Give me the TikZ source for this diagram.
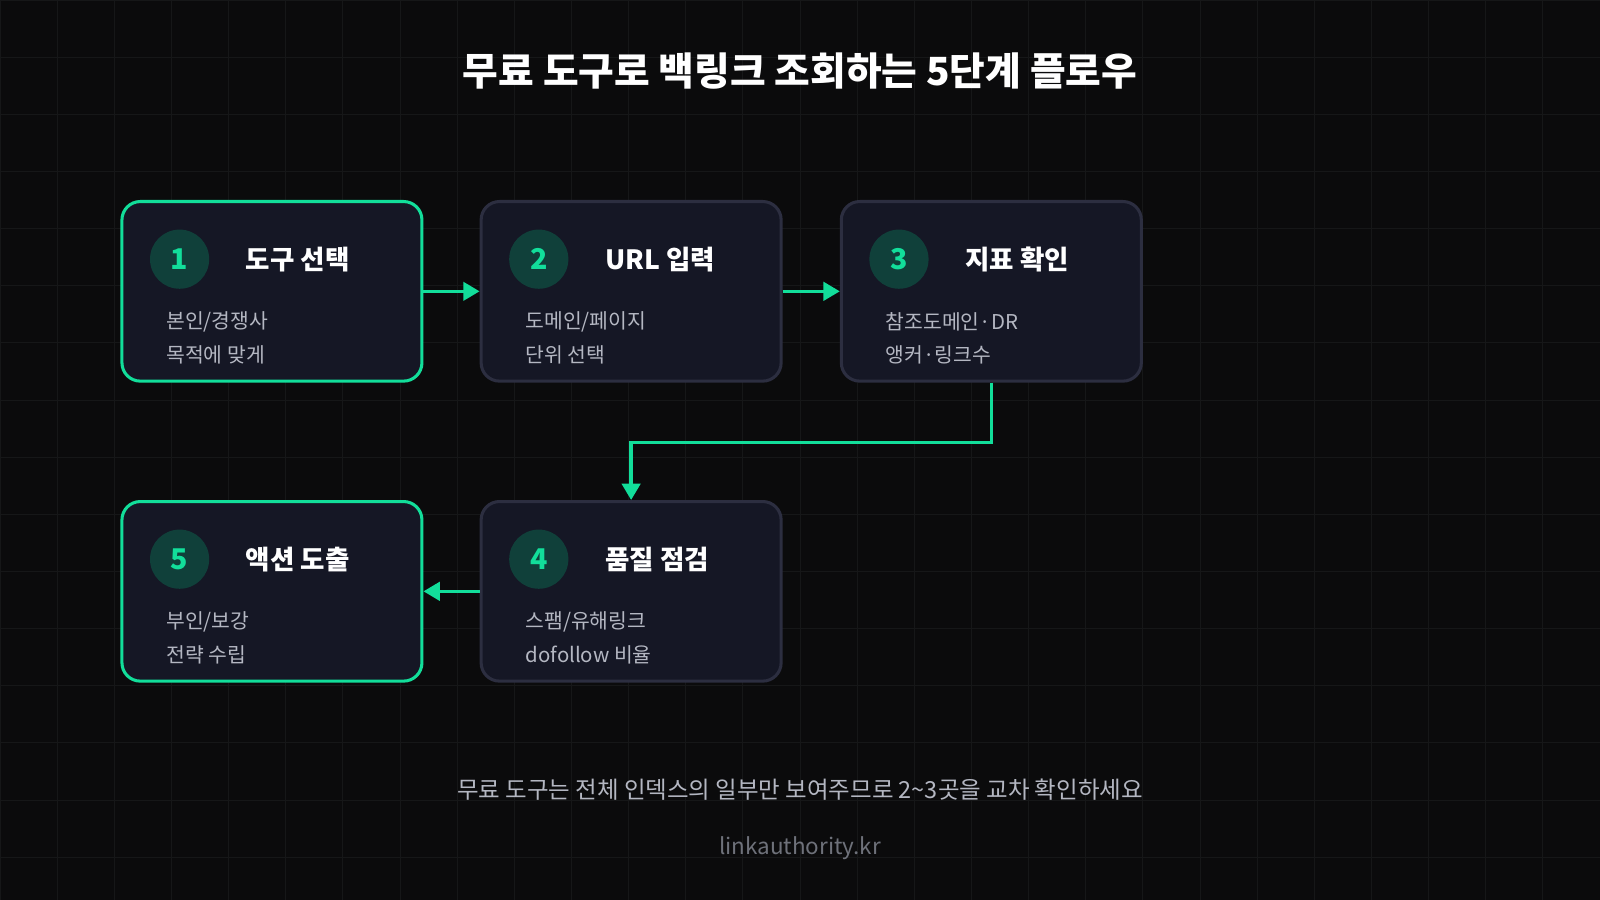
\documentclass[tikz,border=0pt]{standalone}
\usepackage{fontspec}
\setmainfont{Noto Sans CJK KR}
\usetikzlibrary{arrows.meta}
\definecolor{bg}{HTML}{0B0B0C}
\definecolor{gridc}{HTML}{161718}
\definecolor{acc}{HTML}{12DE9A}
\definecolor{boxf}{HTML}{151725}
\definecolor{boxd}{HTML}{2C2E40}
\definecolor{circf}{HTML}{10403A}
\definecolor{subt}{HTML}{B4B7C2}
\definecolor{foot}{HTML}{6E717A}
\begin{document}
\begin{tikzpicture}[x=0.5pt,y=-0.5pt,
  box/.style={draw=boxd,line width=1.5pt,fill=boxf,rounded corners=9pt,minimum width=147pt,minimum height=88pt,anchor=north west,inner sep=0},
  hot/.style={box,draw=acc},
  num/.style={circle,fill=circf,minimum size=29pt,inner sep=0,text=acc,font=\fontsize{14}{14}\selectfont\bfseries},
  ttl/.style={anchor=west,text=white,font=\fontsize{13}{13}\selectfont\bfseries},
  sub/.style={anchor=west,text=subt,font=\fontsize{10}{10}\selectfont},
  arr/.style={draw=acc,line width=1.6pt,-{Triangle[length=8pt,width=9pt]}}]
\fill[bg] (0,0) rectangle (1568,882);
\useasboundingbox (0,0) rectangle (1568,882);
\foreach \x in {0,56,...,1568} \draw[gridc,line width=0.4pt] (\x,0) -- (\x,882);
\foreach \y in {0,56,...,882} \draw[gridc,line width=0.4pt] (0,\y) -- (1568,\y);
\node[text=white,font=\fontsize{19}{19}\selectfont\bfseries] (title) at (784,70) {무료 도구로 백링크 조회하는 5단계 플로우};
% boxes
\node[hot] (b1) at (118,196) {};
\node[box] (b2) at (470,196) {};
\node[box] (b3) at (823,196) {};
\node[box] (b4) at (470,490) {};
\node[hot] (b5) at (118,490) {};
\foreach \b/\n/\t/\sa/\sb in {b1/1/도구 선택/본인\slash 경쟁사/목적에 맞게, b2/2/URL 입력/도메인\slash 페이지/단위 선택, b3/3/지표 확인/참조도메인·DR/앵커·링크수, b4/4/품질 점검/스팸\slash 유해링크/dofollow 비율, b5/5/액션 도출/부인\slash 보강/전략 수립}{
  \node[num] (\b n) at ([xshift=29pt,yshift=-29pt]\b.north west) {\n};
  \node[ttl] (\b t) at ([xshift=58pt,yshift=-29pt]\b.north west) {\t};
  \node[sub] (\b s) at ([xshift=19pt,yshift=-59.5pt]\b.north west) {\sa};
  \node[sub] (\b u) at ([xshift=19pt,yshift=-76pt]\b.north west) {\sb};
}
\draw[arr] (b1.east) -- (b2.west);
\draw[arr] (b2.east) -- (b3.west);
\draw[arr] (b3.south) -- ++(0,59) -| (b4.north);
\draw[arr] (b4.west) -- (b5.east);
\node[text=subt,font=\fontsize{11.5}{11.5}\selectfont] (note) at (784,774) {무료 도구는 전체 인덱스의 일부만 보여주므로 2\textasciitilde 3곳을 교차 확인하세요};
\node[text=foot,font=\fontsize{11}{11}\selectfont] (url) at (784,831) {linkauthority.kr};
\end{tikzpicture}
\end{document}
